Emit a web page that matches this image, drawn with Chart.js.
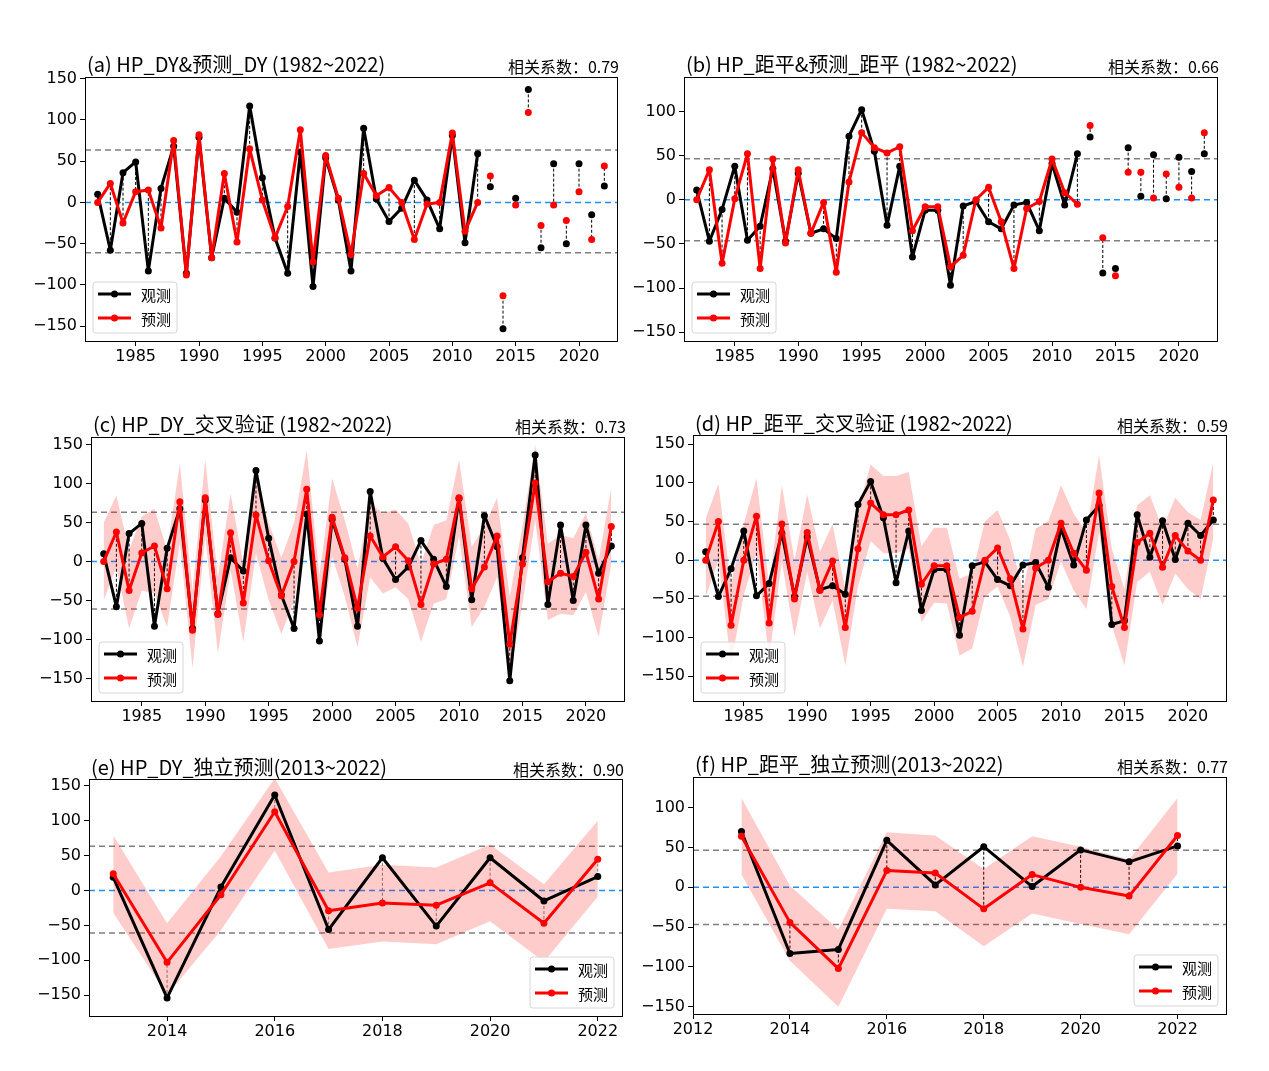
<!DOCTYPE html>
<html>
<head>
<meta charset="utf-8">
<script src="https://cdn.jsdelivr.net/npm/chart.js@4.4.0/dist/chart.umd.min.js"></script>
<style>
body { margin: 0; background: #fff; }
#page { position: relative; width: 1269px; height: 1071px; overflow: hidden; }
canvas { position: absolute; }
.title, .corr { position: absolute; font-family: "Noto Sans CJK SC", "Noto Sans", sans-serif; color: #000; white-space: nowrap; line-height: 1; transform: translateY(-50%); }
.title { font-size: 20px; }
.corr { font-size: 16px; transform: translate(-100%, -50%); }
</style>
</head>
<body>
<div id="page"></div>
<script>
// years of the whole record and of the independent test
const years = [1982, 1983, 1984, 1985, 1986, 1987, 1988, 1989, 1990, 1991, 1992, 1993, 1994, 1995, 1996, 1997, 1998, 1999, 2000, 2001,
  2002, 2003, 2004, 2005, 2006, 2007, 2008, 2009, 2010, 2011, 2012, 2013, 2014, 2015, 2016, 2017, 2018, 2019, 2020, 2021, 2022];
const yearsInd = [2013, 2014, 2015, 2016, 2017, 2018, 2019, 2020, 2021, 2022];

// HP_DY
const obsDY = [10, -58, 36, 49, -83, 17, 68, -86, 79, -67, 5, -12, 117, 30, -43, -86, 61, -102, 54, 3,
  -83, 90, 4, -23, -7, 27, 3, -32, 81, -49, 59, 19, -153, 5, 137, -55, 47, -50, 47, -15, 20];
const fitDY = [0, 23, -25, 13, 15, -31, 75, -88, 82, -67, 35, -48, 65, 3, -43, -5, 88, -72, 57, 5,
  -63, 35, 8, 18, 0, -45, -2, 0, 84, -35, 0, 32, -113, -3, 109, -28, -3, -22, 13, -45, 44];
const cvDY = [0, 38, -37, 11, 20, -35, 77, -88, 82, -68, 37, -53, 60, 1, -44, 0, 93, -68, 57, 5,
  -60, 33, 6, 19, 1, -55, -3, 3, 82, -35, -7, 33, -106, -3, 101, -26, -15, -19, 12, -48, 45];
const cvDYHigh = [50, 85, 15, 58, 68, 15, 126, -37, 131, -20, 87, -3, 108, 50, 5, 50, 143, -18, 107, 53,
  -9, 75, 62, 67, 49, -3, 47, 53, 131, 19, 45, 82, -45, 45, 150, 23, 34, 30, 62, 2, 95];
const cvDYLow = [-50, -7, -86, -37, -41, -84, 25, -137, 32, -118, -11, -103, 10, -49, -93, -50, 45, -106, 7, -45,
  -110, -20, -41, -33, -48, -103, -54, -48, 32, -84, -58, -20, -148, -54, 53, -75, -67, -69, -39, -97, -3];
const indObsDY = [19, -154, 5, 137, -56, 47, -51, 47, -15, 20];
const indPredDY = [24, -103, -6, 113, -29, -18, -21, 11, -47, 45];
const indDYHigh = [79, -47, 49, 161, 26, 37, 33, 66, 9, 100];
const indDYLow = [-32, -150, -57, 57, -84, -73, -77, -44, -102, -9];

// HP_距平
const obsJP = [11, -47, -11, 38, -46, -30, 35, -47, 30, -38, -33, -44, 72, 102, 55, -29, 38, -65, -12, -12,
  -97, -7, -2, -25, -33, -6, -3, -35, 41, -6, 52, 71, -83, -78, 59, 4, 51, 1, 48, 32, 52];
const fitJP = [0, 34, -72, 1, 52, -78, 46, -49, 34, -38, -3, -82, 20, 76, 59, 53, 60, -35, -8, -8,
  -76, -63, 0, 14, -25, -78, -10, -2, 46, 8, -5, 84, -43, -86, 31, 31, 2, 29, 14, 2, 76];
const cvJP = [0, 50, -84, 0, 57, -81, 47, -50, 36, -39, -1, -87, 15, 74, 59, 59, 65, -31, -7, -7,
  -74, -66, 0, 16, -24, -89, -10, 0, 48, 9, -13, 87, -34, -87, 23, 35, -9, 32, 12, 0, 78];
const cvJPHigh = [54, 99, -32, 47, 106, -32, 97, 0, 85, 11, 47, -39, 65, 124, 109, 109, 114, 18, 42, 42,
  -24, -17, 50, 65, 26, -39, 41, 50, 97, 60, 37, 136, 15, -37, 71, 84, 41, 81, 62, 52, 127];
const cvJPLow = [-47, 0, -134, -45, 9, -127, -2, -99, -15, -88, -52, -136, -34, 25, 9, 9, 15, -80, -55, -56,
  -123, -114, -47, -34, -73, -138, -58, -50, -2, -39, -63, 37, -84, -136, -28, -15, -58, -17, -37, -50, 28];
const indObsJP = [70, -83, -78, 59, 3, 51, 1, 47, 32, 52];
const indPredJP = [64, -44, -102, 21, 18, -27, 16, 0, -11, 65];
const indJPHigh = [112, 2, -53, 69, 65, 23, 64, 51, 35, 112];
const indJPLow = [16, -92, -150, -27, -30, -74, -33, -46, -59, 17];

// dashed reference levels
const levelsDY = [63.5, -61];
const levelsJP = [46.5, -46.5];

// tick labels
const xTicksAll = [1985, 1990, 1995, 2000, 2005, 2010, 2015, 2020];
const xTicksE = [2014, 2016, 2018, 2020, 2022];
const xTicksF = [2012, 2014, 2016, 2018, 2020, 2022];
const yTicks150 = [-150, -100, -50, 0, 50, 100, 150];
const yTicks100 = [-150, -100, -50, 0, 50, 100];

const legendNames = ['观测', '预测'];
const cnFont = '"Noto Sans CJK SC", "Noto Sans", sans-serif';

Chart.defaults.font.family = '"DejaVu Sans", sans-serif';
Chart.defaults.font.size = 16;
Chart.defaults.color = '#000';

function pts(xs, ys) {
  return xs.map((x, i) => ({ x: x, y: ys[i] }));
}

// order: bigger number is painted first (underneath)
function lineSet(xs, ys, color, showLine, order) {
  return {
    data: pts(xs, ys), borderColor: color, backgroundColor: color, borderWidth: 3,
    borderJoinStyle: 'round', borderCapStyle: 'round',
    pointRadius: 3.5, pointHoverRadius: 3.5, pointBackgroundColor: color, pointBorderWidth: 0,
    showLine: showLine, fill: false, tension: 0, order: order
  };
}

function bandSets(xs, hi, lo) {
  return [
    { data: pts(xs, hi), borderWidth: 0, pointRadius: 0, backgroundColor: 'rgba(255,0,0,0.2)', fill: '+1', order: 10 },
    { data: pts(xs, lo), borderWidth: 0, pointRadius: 0, backgroundColor: 'rgba(255,0,0,0.2)', fill: false, order: 11 }
  ];
}

function makeGuides(p) {
  return {
    id: 'guides',
    beforeDatasetsDraw(chart) {
      let ctx = chart.ctx, a = chart.chartArea, xs = chart.scales.x, ys = chart.scales.y;
      ctx.save();
      ctx.beginPath();
      ctx.rect(a.left, a.top, a.right - a.left, a.bottom - a.top);
      ctx.clip();
      ctx.lineWidth = 1.5;
      ctx.setLineDash([6, 4]);
      ctx.strokeStyle = '#808080';
      p.levels.forEach(v => {
        let y = ys.getPixelForValue(v);
        ctx.beginPath(); ctx.moveTo(a.left, y); ctx.lineTo(a.right, y); ctx.stroke();
      });
      ctx.strokeStyle = '#1e90ff';
      let y0 = ys.getPixelForValue(0);
      ctx.beginPath(); ctx.moveTo(a.left, y0); ctx.lineTo(a.right, y0); ctx.stroke();
      // obs-pred links
      ctx.lineWidth = 1;
      ctx.setLineDash([3, 2]);
      ctx.strokeStyle = p.linkColor;
      p.x.forEach((x, i) => {
        let px = xs.getPixelForValue(x);
        ctx.beginPath();
        ctx.moveTo(px, ys.getPixelForValue(p.obs[i]));
        ctx.lineTo(px, ys.getPixelForValue(p.pred[i]));
        ctx.stroke();
      });
      ctx.restore();
    },
    afterDraw(chart) {
      let ctx = chart.ctx, a = chart.chartArea;
      ctx.save();
      ctx.strokeStyle = '#000';
      ctx.lineWidth = 1;
      ctx.strokeRect(a.left + 0.5, a.top + 0.5, a.right - a.left, a.bottom - a.top);
      // legend box
      let w = 84, h = 51;
      let bx = p.legendRight ? a.right - 8 - w : a.left + 8;
      let by = a.bottom - 8 - h;
      ctx.fillStyle = 'rgba(255,255,255,0.8)';
      ctx.strokeStyle = '#d6d6d6';
      ctx.beginPath();
      ctx.roundRect(bx, by, w, h, 3);
      ctx.fill(); ctx.stroke();
      ['#000', '#ff0000'].forEach((c, i) => {
        let cy = by + 12 + i * 24;
        ctx.strokeStyle = c; ctx.fillStyle = c; ctx.lineWidth = 3;
        ctx.beginPath(); ctx.moveTo(bx + 5, cy); ctx.lineTo(bx + 38, cy); ctx.stroke();
        ctx.beginPath(); ctx.arc(bx + 21.5, cy, 3.5, 0, Math.PI * 2); ctx.fill();
        ctx.fillStyle = '#000';
        ctx.font = '15px ' + cnFont;
        ctx.textBaseline = 'middle';
        ctx.fillText(legendNames[i], bx + 48, cy + 1);
      });
      ctx.restore();
    }
  };
}

function addText(cls, text, x, y) {
  let d = document.createElement('div');
  d.className = cls;
  d.textContent = text;
  d.style.left = x + 'px';
  d.style.top = y + 'px';
  document.getElementById('page').appendChild(d);
}

function makePanel(p) {
  let padL = 62, padT = 16, padR = 12, padB = 34;
  let cv = document.createElement('canvas');
  cv.width = p.R - p.L + padL + padR;
  cv.height = p.B - p.T + padT + padB;
  cv.style.left = (p.L - padL) + 'px';
  cv.style.top = (p.T - padT) + 'px';
  document.getElementById('page').appendChild(cv);

  addText('title', p.title, p.L + 2, p.titleY);
  addText('corr', p.corr, p.R + 2, p.titleY + 2);

  new Chart(cv, {
    type: 'line',
    data: { datasets: p.datasets },
    options: {
      responsive: false,
      animation: false,
      events: [],
      layout: { padding: { top: padT, right: padR, left: 0, bottom: 0 } },
      plugins: { legend: { display: false }, tooltip: { enabled: false } },
      scales: {
        x: {
          type: 'linear', min: p.xMin, max: p.xMax,
          afterBuildTicks: axis => { axis.ticks = p.xTicks.map(v => ({ value: v })); },
          afterFit: scale => { scale.height = padB; },
          ticks: { padding: 1, maxRotation: 0, autoSkip: false, callback: v => String(v) },
          grid: { drawOnChartArea: false, drawTicks: true, tickLength: 5, color: '#000' },
          border: { display: true, color: '#000' }
        },
        y: {
          type: 'linear', min: p.yMin, max: p.yMax,
          afterBuildTicks: axis => { axis.ticks = p.yTicks.map(v => ({ value: v })); },
          afterFit: scale => { scale.width = padL; },
          ticks: { padding: 3, callback: v => String(v).replace('-', '\u2212') },
          grid: { drawOnChartArea: false, drawTicks: true, tickLength: 5, color: '#000' },
          border: { display: true, color: '#000' }
        }
      }
    },
    plugins: [makeGuides(p)]
  });
}

const fitYears = years.slice(0, 31);

makePanel({
  title: '(a) HP_DY&预测_DY (1982~2022)', corr: '相关系数：0.79',
  L: 85, R: 617, T: 77, B: 341, titleY: 64,
  xMin: 1981, xMax: 2023, xTicks: xTicksAll, yMin: -168, yMax: 152, yTicks: yTicks150,
  levels: levelsDY, x: years, obs: obsDY, pred: fitDY, linkColor: '#000', legendRight: false,
  datasets: [
    lineSet(fitYears, obsDY.slice(0, 31), '#000', true, 4),
    lineSet(fitYears, fitDY.slice(0, 31), '#ff0000', true, 3),
    lineSet(yearsInd, obsDY.slice(31), '#000', false, 2),
    lineSet(yearsInd, fitDY.slice(31), '#ff0000', false, 1)
  ]
});

makePanel({
  title: '(b) HP_距平&预测_距平 (1982~2022)', corr: '相关系数：0.66',
  L: 684, R: 1217, T: 77, B: 341, titleY: 64,
  xMin: 1981, xMax: 2023, xTicks: xTicksAll, yMin: -160, yMax: 139, yTicks: yTicks100,
  levels: levelsJP, x: years, obs: obsJP, pred: fitJP, linkColor: '#000', legendRight: false,
  datasets: [
    lineSet(fitYears, obsJP.slice(0, 31), '#000', true, 4),
    lineSet(fitYears, fitJP.slice(0, 31), '#ff0000', true, 3),
    lineSet(yearsInd, obsJP.slice(31), '#000', false, 2),
    lineSet(yearsInd, fitJP.slice(31), '#ff0000', false, 1)
  ]
});

makePanel({
  title: '(c) HP_DY_交叉验证 (1982~2022)', corr: '相关系数：0.73',
  L: 91, R: 624, T: 437, B: 701, titleY: 424,
  xMin: 1981, xMax: 2023, xTicks: xTicksAll, yMin: -179, yMax: 160, yTicks: yTicks150,
  levels: levelsDY, x: years, obs: obsDY, pred: cvDY, linkColor: '#000', legendRight: false,
  datasets: bandSets(years, cvDYHigh, cvDYLow).concat([
    lineSet(years, obsDY, '#000', true, 2),
    lineSet(years, cvDY, '#ff0000', true, 1)
  ])
});

makePanel({
  title: '(d) HP_距平_交叉验证 (1982~2022)', corr: '相关系数：0.59',
  L: 693, R: 1226, T: 435, B: 701, titleY: 423,
  xMin: 1981, xMax: 2023, xTicks: xTicksAll, yMin: -182, yMax: 162, yTicks: yTicks150,
  levels: levelsJP, x: years, obs: obsJP, pred: cvJP, linkColor: '#000', legendRight: false,
  datasets: bandSets(years, cvJPHigh, cvJPLow).concat([
    lineSet(years, obsJP, '#000', true, 2),
    lineSet(years, cvJP, '#ff0000', true, 1)
  ])
});

makePanel({
  title: '(e) HP_DY_独立预测(2013~2022)', corr: '相关系数：0.90',
  L: 89, R: 622, T: 779, B: 1016, titleY: 767,
  xMin: 2012.55, xMax: 2022.45, xTicks: xTicksE, yMin: -180, yMax: 160, yTicks: yTicks150,
  levels: levelsDY, x: yearsInd, obs: indObsDY, pred: indPredDY, linkColor: '#808080', legendRight: true,
  datasets: bandSets(yearsInd, indDYHigh, indDYLow).concat([
    lineSet(yearsInd, indObsDY, '#000', true, 2),
    lineSet(yearsInd, indPredDY, '#ff0000', true, 1)
  ])
});

makePanel({
  title: '(f) HP_距平_独立预测(2013~2022)', corr: '相关系数：0.77',
  L: 693, R: 1226, T: 777, B: 1014, titleY: 764,
  xMin: 2012, xMax: 2023, xTicks: xTicksF, yMin: -159, yMax: 138.5, yTicks: yTicks100,
  levels: levelsJP, x: yearsInd, obs: indObsJP, pred: indPredJP, linkColor: '#000', legendRight: true,
  datasets: bandSets(yearsInd, indJPHigh, indJPLow).concat([
    lineSet(yearsInd, indObsJP, '#000', true, 2),
    lineSet(yearsInd, indPredJP, '#ff0000', true, 1)
  ])
});
</script>
</body>
</html>
